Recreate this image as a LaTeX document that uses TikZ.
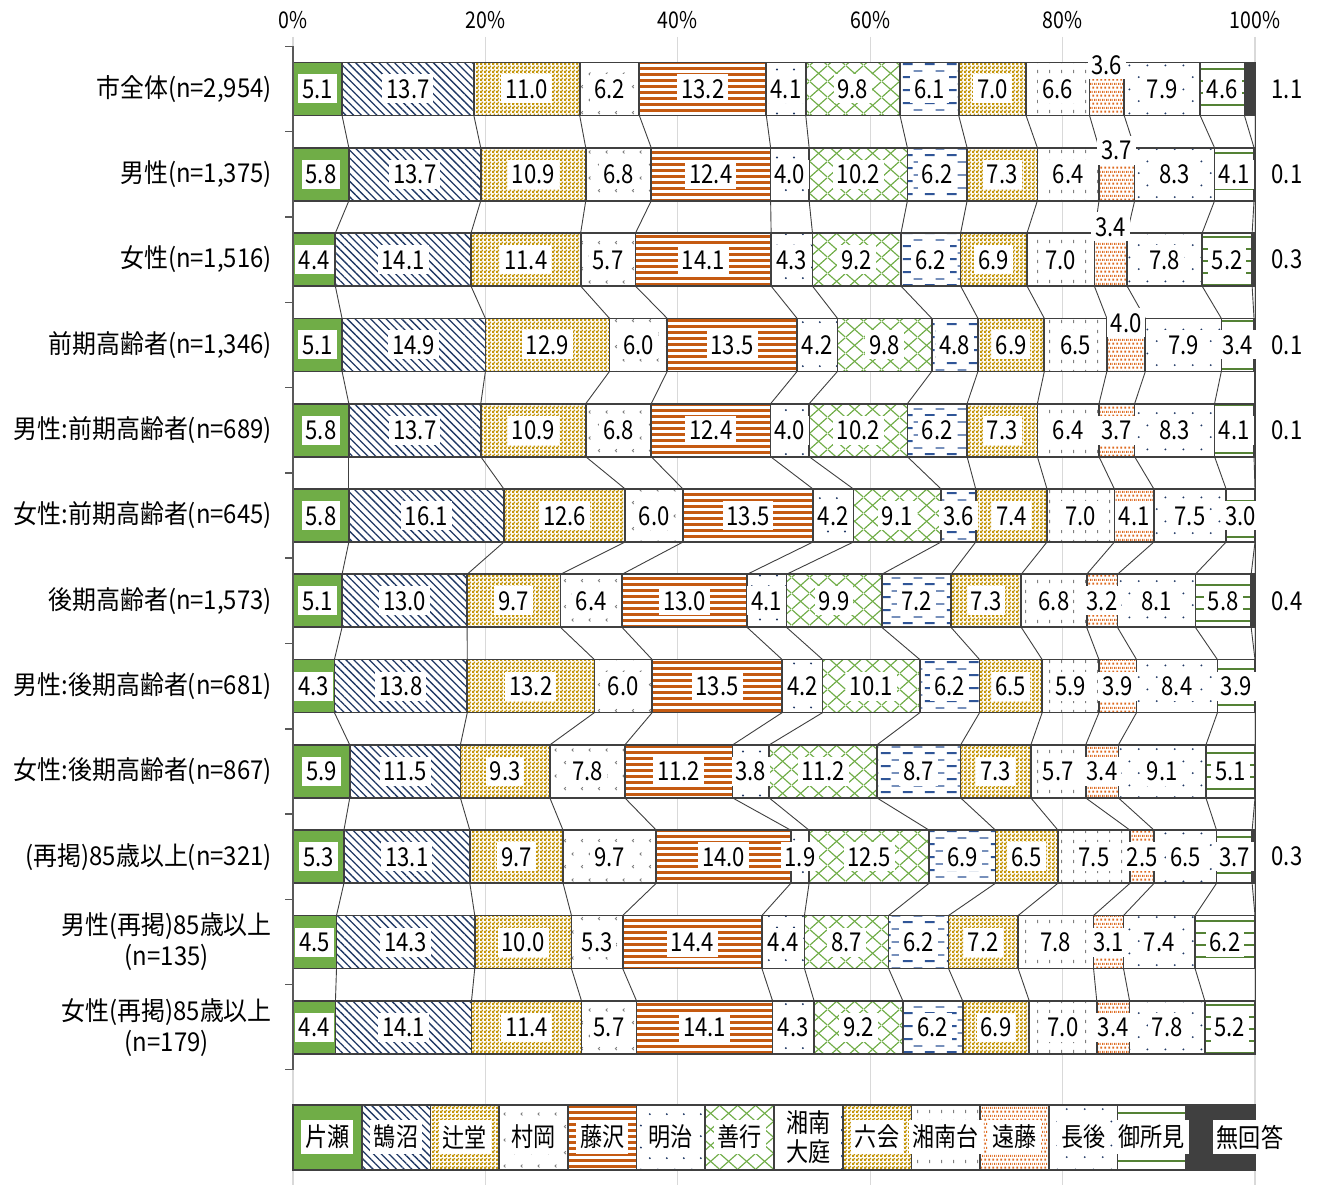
\documentclass[tikz,border=0pt]{standalone}
\usepackage{fontspec}
\newfontfamily\jp{Noto Sans CJK JP}[FakeStretch=0.85]
\newfontfamily\jpw{Noto Sans CJK JP}[FakeStretch=0.92]
\usetikzlibrary{patterns.meta}

\definecolor{cGreen}{RGB}{112,173,71}
\definecolor{cNavy}{RGB}{31,56,100}
\definecolor{cGold}{RGB}{196,150,10}
\definecolor{cGray}{RGB}{128,128,128}
\definecolor{cOrange}{RGB}{197,90,17}
\definecolor{cBlue}{RGB}{47,85,151}
\definecolor{cOrangeDot}{RGB}{222,105,30}
\definecolor{cDkGreen}{RGB}{84,130,53}
\definecolor{cDark}{RGB}{64,64,64}
\definecolor{cEdge}{RGB}{64,64,64}
\definecolor{cGrid}{RGB}{217,217,217}
\definecolor{cAxis}{RGB}{89,89,89}

\tikzdeclarepattern{name=mychecker, type=uncolored,
  bottom left={(0pt,0pt)}, top right={(4pt,4pt)}, tile size={(4pt,4pt)},
  code={\fill (0pt,0pt) rectangle (2.5pt,2.5pt); \fill (2pt,2pt) rectangle (4pt,4pt);}}
\tikzdeclarepattern{name=mymarks, type=uncolored,
  bottom left={(0pt,0pt)}, top right={(17pt,26pt)}, tile size={(17pt,26pt)},
  code={\draw[line width=0.9pt] (5pt,5pt) -- (3.5pt,6.5pt) -- (5pt,8pt);
        \draw[line width=0.9pt] (13pt,18pt) -- (11.5pt,19.5pt) -- (13pt,21pt);}}
\tikzdeclarepattern{name=mysparse, type=uncolored,
  bottom left={(0pt,0pt)}, top right={(17pt,22pt)}, tile size={(17pt,22pt)},
  code={\fill (4pt,5pt) circle (1.1pt); \fill (12.5pt,16pt) circle (1.1pt);}}
\tikzdeclarepattern{name=mysparseb, type=uncolored,
  bottom left={(0pt,0pt)}, top right={(18pt,24pt)}, tile size={(18pt,24pt)},
  code={\fill (5pt,4pt) circle (1.1pt); \fill (14pt,16pt) circle (1.1pt);}}
\tikzdeclarepattern{name=mylattice, type=uncolored,
  bottom left={(0pt,0pt)}, top right={(18pt,16pt)}, tile size={(18pt,16pt)},
  code={\draw[line width=1.2pt] (0pt,0pt) -- (18pt,16pt); \draw[line width=1.2pt] (0pt,16pt) -- (18pt,0pt);}}
\tikzdeclarepattern{name=mydashes, type=uncolored,
  bottom left={(0pt,0pt)}, top right={(22pt,13pt)}, tile size={(22pt,13pt)},
  code={\draw[line width=2.2pt] (1pt,3pt) -- (11pt,3pt); \draw[line width=1.3pt] (12pt,9.5pt) -- (21pt,9.5pt);}}
\tikzdeclarepattern{name=myvdash, type=uncolored,
  bottom left={(0pt,0pt)}, top right={(12pt,10pt)}, tile size={(12pt,10pt)},
  code={\draw[line width=1.1pt] (6pt,2pt) -- (6pt,5.5pt);}}
\tikzdeclarepattern{name=myodots, type=uncolored,
  bottom left={(0pt,0pt)}, top right={(4pt,8pt)}, tile size={(4pt,8pt)},
  code={\fill (0.5pt,0.5pt) rectangle (2.7pt,2.7pt); \fill (2.5pt,4.5pt) rectangle (4pt,6.7pt); \fill (0pt,4.5pt) rectangle (0.7pt,6.7pt);}}

\tikzset{
  ser1/.style={fill=cGreen},
  ser2/.style={preaction={fill=white}, pattern={Lines[angle=-45,distance=5.5pt,line width=1.3pt]}, pattern color=cNavy},
  ser3/.style={preaction={fill=white}, pattern=mychecker, pattern color=cGold},
  ser4/.style={preaction={fill=white}, pattern=mymarks, pattern color=cGray},
  ser5/.style={preaction={fill=white}, pattern={Lines[angle=0,distance=6pt,line width=3pt]}, pattern color=cOrange},
  ser6/.style={preaction={fill=white}, pattern=mysparse, pattern color=cNavy},
  ser7/.style={preaction={fill=white}, pattern=mylattice, pattern color=cGreen},
  ser8/.style={preaction={fill=white}, pattern=mydashes, pattern color=cBlue},
  ser9/.style={preaction={fill=white}, pattern=mychecker, pattern color=cGold},
  ser10/.style={preaction={fill=white}, pattern=myvdash, pattern color=cGray},
  ser11/.style={preaction={fill=white}, pattern=myodots, pattern color=cOrangeDot},
  ser12/.style={preaction={fill=white}, pattern=mysparseb, pattern color=cNavy},
  ser13/.style={preaction={fill=white}, pattern={Lines[angle=0,distance=12pt,line width=2.4pt]}, pattern color=cDkGreen},
  ser14/.style={fill=cDark},
  segedge/.style={draw=cEdge, line width=1.7pt},
  conn/.style={draw=cEdge, line width=0.9pt},
  gridline/.style={draw=cGrid, line width=1.2pt},
  axisline/.style={draw=cAxis, line width=1.5pt},
  vlab/.style={font=\jp\fontsize{26}{28}\selectfont, fill=white, inner xsep=4pt, inner ysep=5pt, text height=19pt, text depth=0pt},
  rlab/.style={font=\jp\fontsize{26}{28}\selectfont, inner sep=0pt, fill=none},
  rowlab/.style={font=\jpw\fontsize{26}{31}\selectfont, anchor=east, align=center, inner sep=0pt},
  leglab/.style={font=\jp\fontsize{26}{29}\selectfont, fill=white, align=center, inner xsep=4pt, inner ysep=5pt},
  axlab/.style={font=\jp\fontsize{23}{25}\selectfont, inner sep=0pt}
}

\def\valsA{5.1,13.7,11.0,6.2,13.2,4.1,9.8,6.1,7.0,6.6,3.6,7.9,4.6,1.1}
\def\valsB{5.8,13.7,10.9,6.8,12.4,4.0,10.2,6.2,7.3,6.4,3.7,8.3,4.1,0.1}
\def\valsC{4.4,14.1,11.4,5.7,14.1,4.3,9.2,6.2,6.9,7.0,3.4,7.8,5.2,0.3}
\def\valsD{5.1,14.9,12.9,6.0,13.5,4.2,9.8,4.8,6.9,6.5,4.0,7.9,3.4,0.1}
\def\valsE{5.8,13.7,10.9,6.8,12.4,4.0,10.2,6.2,7.3,6.4,3.7,8.3,4.1,0.1}
\def\valsF{5.8,16.1,12.6,6.0,13.5,4.2,9.1,3.6,7.4,7.0,4.1,7.5,3.0,0}
\def\valsG{5.1,13.0,9.7,6.4,13.0,4.1,9.9,7.2,7.3,6.8,3.2,8.1,5.8,0.4}
\def\valsH{4.3,13.8,13.2,6.0,13.5,4.2,10.1,6.2,6.5,5.9,3.9,8.4,3.9,0}
\def\valsI{5.9,11.5,9.3,7.8,11.2,3.8,11.2,8.7,7.3,5.7,3.4,9.1,5.1,0}
\def\valsJ{5.3,13.1,9.7,9.7,14.0,1.9,12.5,6.9,6.5,7.5,2.5,6.5,3.7,0.3}
\def\valsK{4.5,14.3,10.0,5.3,14.4,4.4,8.7,6.2,7.2,7.8,3.1,7.4,6.2,0}
\def\valsL{4.4,14.1,11.4,5.7,14.1,4.3,9.2,6.2,6.9,7.0,3.4,7.8,5.2,0}

\newcommand\mytotal[1]{%
  \gdef\myacc{0}%
  \foreach \v in #1{\pgfmathparse{\myacc+\v}\xdef\myacc{\pgfmathresult}}%
  \global\let\myrowtot\myacc}

\newcommand\barrow[3]{% row, label, values
  \pgfmathsetmacro\myyc{89+85.3*(#1-1)}
  \pgfmathsetmacro\myyt{\myyc-26.5}
  \pgfmathsetmacro\myyb{\myyc+26.5}
  \mytotal{#3}
  \gdef\mycum{0}
  \foreach \v [count=\k] in #3{
    \pgfmathsetmacro\myxa{293+962*(\mycum/\myrowtot)}
    \pgfmathparse{\mycum+\v}\xdef\mycum{\pgfmathresult}
    \pgfmathsetmacro\myxb{293+962*(\mycum/\myrowtot)}
    \coordinate (s#1-\k-t) at (\myxb,\myyt);
    \coordinate (s#1-\k-b) at (\myxb,\myyb);
    \ifdim\v pt>0pt
      \draw[ser\k,segedge] (\myxa,\myyt) rectangle (\myxb,\myyb);
    \fi
  }
  \node[rowlab] (r#1) at (272,\myyc) {#2};
}

\newcommand\labrow[3]{% row, values, dy of 11th label
  \pgfmathsetmacro\myyc{89+85.3*(#1-1)}
  \pgfmathsetmacro\myye{\myyc+(#3)}
  \mytotal{#2}
  \gdef\mycum{0}
  \foreach \v [count=\k] in #2{
    \pgfmathsetmacro\myxa{293+962*(\mycum/\myrowtot)}
    \pgfmathparse{\mycum+\v}\xdef\mycum{\pgfmathresult}
    \pgfmathsetmacro\myxb{293+962*(\mycum/\myrowtot)}
    \pgfmathsetmacro\myxm{(\myxa+\myxb)/2}
    \ifdim\v pt>0pt
      \ifnum\k=14
        \node[rlab] (v#1-\k) at (1287,\myyc) {\v};
      \else\ifnum\k=11
        \node[vlab] (v#1-\k) at (\myxm,\myye) {\v};
      \else
        \node[vlab] (v#1-\k) at (\myxm,\myyc) {\v};
      \fi\fi
    \fi
  }
}

\begin{document}
\begin{tikzpicture}[x=1pt,y=-1pt]
\useasboundingbox[fill=white] (0,0) rectangle (1320,1185);

% gridlines
\foreach \p in {0,20,40,60,80,100}{
  \draw[gridline] ({293+9.62*\p},37) -- ({293+9.62*\p},1185);
  \node[axlab] (ax\p) at ({293+9.62*\p},20) {\p\%};
}

% bars
\barrow{1}{市全体(n=2,954)}{\valsA}
\barrow{2}{男性(n=1,375)}{\valsB}
\barrow{3}{女性(n=1,516)}{\valsC}
\barrow{4}{前期高齢者(n=1,346)}{\valsD}
\barrow{5}{男性:前期高齢者(n=689)}{\valsE}
\barrow{6}{女性:前期高齢者(n=645)}{\valsF}
\barrow{7}{後期高齢者(n=1,573)}{\valsG}
\barrow{8}{男性:後期高齢者(n=681)}{\valsH}
\barrow{9}{女性:後期高齢者(n=867)}{\valsI}
\barrow{10}{(再掲)85歳以上(n=321)}{\valsJ}
\barrow{11}{男性(再掲)85歳以上\\(n=135)}{\valsK}
\barrow{12}{女性(再掲)85歳以上\\(n=179)}{\valsL}

% series lines
\foreach \r [evaluate=\r as \rr using int(\r+1)] in {1,...,11}{
  \foreach \k in {1,...,14}{
    \draw[conn] (s\r-\k-b) -- (s\rr-\k-t);
  }
}

% left axis
\draw[axisline] (285,46.4) -- (293,46.4) -- (293,1069.7) -- (285,1069.7);
\foreach \j in {1,...,11}{
  \draw[axisline] (285,{46.4+85.3*\j}) -- (293,{46.4+85.3*\j});
}

% data labels
\labrow{1}{\valsA}{-24}
\labrow{2}{\valsB}{-24}
\labrow{3}{\valsC}{-33}
\labrow{4}{\valsD}{-22}
\labrow{5}{\valsE}{0}
\labrow{6}{\valsF}{0}
\labrow{7}{\valsG}{0}
\labrow{8}{\valsH}{0}
\labrow{9}{\valsI}{0}
\labrow{10}{\valsJ}{0}
\labrow{11}{\valsK}{0}
\labrow{12}{\valsL}{0}

% legend
\foreach \k in {1,...,14}{
  \draw[ser\k,segedge] ({293+962/14*(\k-1)},1105) rectangle ({293+962/14*\k},1170);
}
\foreach \k/\t in {1/片瀬,2/鵠沼,3/辻堂,4/村岡,5/藤沢,6/明治,7/善行,9/六会,10/湘南台,11/遠藤,12/長後,13/御所見}{
  \node[leglab] (lg\k) at ({293+962/14*(\k-0.5)},1137) {\t};
}
\node[leglab, minimum width=66pt, minimum height=63pt, inner ysep=2pt] (lg8) at ({293+962/14*7.5},1137.5) {湘南\\大庭};
\node[leglab] (lg14) at (1250,1137) {無回答};
\end{tikzpicture}
\end{document}
